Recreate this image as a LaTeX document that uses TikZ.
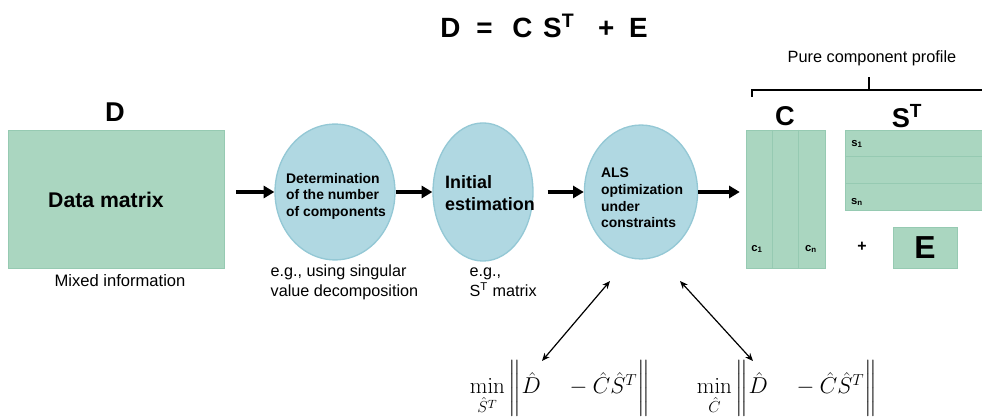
\documentclass[tikz,border=0pt]{standalone}
\usepackage{amsmath}
\usepackage[no-math]{fontspec}
\setmainfont{Liberation Sans}
\usetikzlibrary{positioning, arrows.meta, shapes.geometric, calc}
\definecolor{matfill}{RGB}{170,214,192}
\definecolor{matedge}{RGB}{150,202,178}
\definecolor{stagefill}{RGB}{176,216,226}
\definecolor{stageedge}{RGB}{148,200,213}

\begin{document}
\begin{tikzpicture}[
  x=0.0265cm, y=-0.0265cm,
  mat/.style={rectangle, draw=matedge, fill=matfill, inner sep=0pt},
  stage/.style={ellipse, draw=stageedge, line width=1pt, fill=stagefill, inner sep=0pt},
  stagetext/.style={font=\fontsize{10.5}{12.5}\selectfont\bfseries, align=left},
  note/.style={font=\fontsize{12.2}{15}\selectfont, align=left, anchor=west},
  big/.style={font=\fontsize{20.5}{24}\selectfont\bfseries},
  small/.style={font=\fontsize{8.5}{10}\selectfont\bfseries},
  flow/.style={-{Triangle[length=8pt,width=9pt]}, line width=2.6pt},
  link/.style={{Stealth[length=6pt,width=5pt]}-{Stealth[length=6pt,width=5pt]}, line width=0.9pt},
  >=Stealth
]
\useasboundingbox (0,0) rectangle (982,418);

\node[font=\fontsize{21}{25}\selectfont\bfseries] (title) at (544,26)
  {D\hspace{12pt}=\hspace{15pt}C\hspace{8pt}S\textsuperscript{T}\hspace{18pt}+\hspace{11pt}E};

% data matrix
\node[mat, minimum width=5.72cm, minimum height=3.66cm] (D) at (116,199) {};
\node[font=\fontsize{16}{19}\selectfont\bfseries] (Dtext) at (106,200) {Data matrix};
\node[big] (Dlabel) at (115,112) {D};
\node[font=\fontsize{12.5}{15}\selectfont] (mixed) at (120,281) {Mixed information};

% stages
\node[stage, minimum width=3.18cm, minimum height=3.6cm]  (ncomp) at (335,192) {};
\node[stage, minimum width=2.65cm, minimum height=3.66cm] (init)  at (483,192) {};
\node[stage, minimum width=3.0cm,  minimum height=3.55cm] (als)   at (641,192) {};
\node[stagetext] (ncomptext) at (336,196) {Determination\\of the number\\of components};
\node[stagetext, font=\fontsize{13.5}{16}\selectfont\bfseries] (inittext) at (490,193) {Initial\\estimation};
\node[stagetext] (alstext) at (642,198) {ALS\\optimization\\under\\constraints};
\node[note] (svd) at (266,282) {e.g., using singular\\value decomposition};
\node[note] (stinit) at (465,282) {e.g.,\\S\textsuperscript{T} matrix};

% resolved matrices
\node[mat, minimum width=2.09cm, minimum height=3.66cm] (C) at (785.5,199) {};
\node[mat, minimum width=3.84cm, minimum height=2.12cm] (S) at (917.5,170) {};
\node[mat, minimum width=1.70cm, minimum height=1.09cm] (E) at (925,247.5) {};
\foreach \f in {1/3, 2/3} {
  \draw[matedge] ($(C.north west)!\f!(C.north east)$) -- ($(C.south west)!\f!(C.south east)$);
  \draw[matedge] ($(S.north west)!\f!(S.south west)$) -- ($(S.north east)!\f!(S.south east)$);
}
\node[big] (Clabel) at (785,116) {C};
\node[big] (Slabel) at (907,116) {S\textsuperscript{T}};
\node[font=\fontsize{24}{28}\selectfont\bfseries] (Etext) at (E) {E};
\node[small] (c1) at (757,249) {c\textsubscript{1}};
\node[small] (cn) at (811,249) {c\textsubscript{n}};
\node[small] (s1) at (857,144) {s\textsubscript{1}};
\node[small] (sn) at (857,202) {s\textsubscript{n}};
\node[font=\fontsize{12}{14}\selectfont\bfseries] (plus) at (862,247) {+};

% brace over C and S^T
\draw[line width=1pt] (752,97) -- (752,90) -- (990,90);
\draw[line width=1pt] (869,90) -- (869,77);
\node[font=\fontsize{12.3}{14}\selectfont] (pure) at (872,58) {Pure component profile};

% main flow
\draw[flow, shorten <=0.32cm] (D.east |- ncomp.west) -- (ncomp.west);
\draw[flow] (ncomp) -- (init);
\draw[flow, shorten <=0.37cm] (init) -- (als);
\draw[flow, shorten >=0.16cm] (als.east) -- (C.west |- als.east);

% least squares steps
\node[font=\fontsize{18}{22}\selectfont, anchor=base] (minS) at (560,394)
  {$\min\limits_{\hat{S}^T}\bigg\|\hat{D}\quad -\hat{C}\hat{S}^T\bigg\|$};
\node[font=\fontsize{18}{22}\selectfont, anchor=base] (minC) at (787,394)
  {$\min\limits_{\hat{C}}\bigg\|\hat{D}\quad -\hat{C}\hat{S}^T\bigg\|$};
\coordinate (lsA) at (610,281);
\coordinate (lsB) at (542,361);
\coordinate (lsC) at (680,281);
\coordinate (lsD) at (753,361);
\draw[link] (lsA) -- (lsB);
\draw[link] (lsC) -- (lsD);
\end{tikzpicture}
\end{document}
